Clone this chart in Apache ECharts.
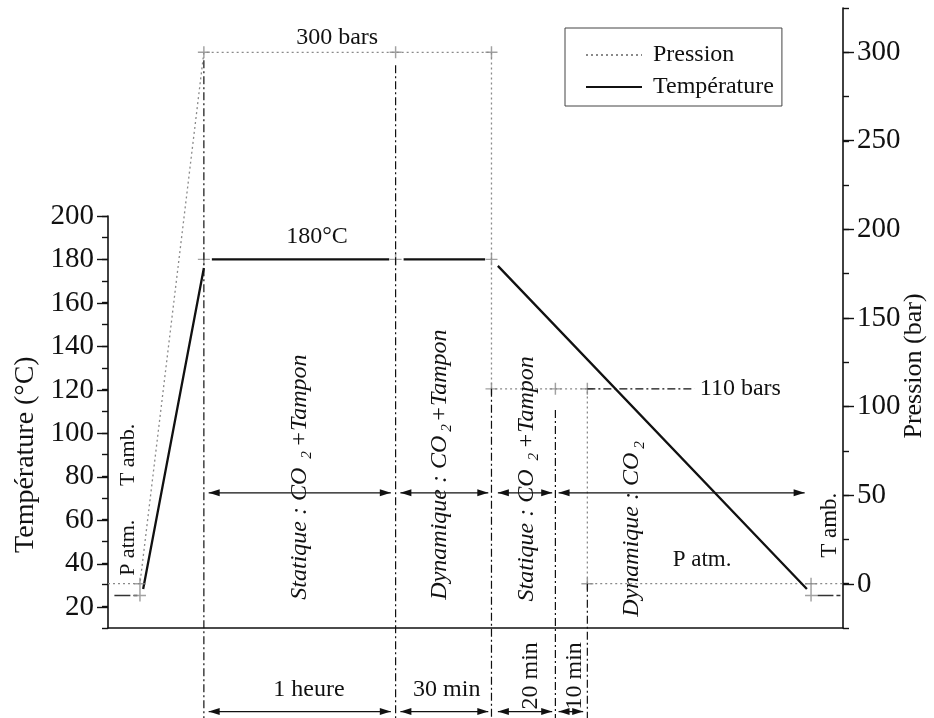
<!DOCTYPE html>
<html><head><meta charset="utf-8">
<script src="https://cdn.jsdelivr.net/npm/echarts@6/dist/echarts.min.js"></script>
<style>html,body{margin:0;padding:0;background:#fff}#c{width:934px;height:718px}</style>
</head><body><div id="c"></div>
<script>
// ---------- data (time in minutes, pressure in bar, temperature in °C) ----------
const timeMin = -30, timeMax = 200;
const pressureData = [[-30,0],[-20,0],[0,300],[60,300],[90,300],[90,110],[110,110],[120,110],[120,0],[190,0],[200,0]];
const pressureMarkers = [[-20,0],[0,300],[60,300],[90,300],[90,110],[110,110],[120,110],[120,0],[190,0]];
const temperatureData = [[-19,28],[0,176],[1,'-'],[2.5,180],[58,180],[60,'-'],[62.5,180],[88,180],[90,'-'],[92,177],[188.7,28]];
const temperatureMarkers = [[-20,25],[0,180],[60,180],[90,180],[190,25]];
const ambientLeft = [[-28,25],[-20.5,25]];
const ambientRight = [[192,25],[200,25]];
const separatorTimes = [0, 60, 90, 110, 120];
const separatorTopPressure = [295.5, 292.7, 110, 98, 0];
const phaseArrows = [[1.5,58.5],[61.5,89],[92,109],[111,188]];
const durationArrows = [[1.5,58.5],[61.5,89],[92,109],[111,118.7]];
const durationLabels = ['1 heure','30 min','20 min','10 min'];
const phaseLabels = [['Statique : CO','+Tampon'],['Dynamique : CO','+Tampon'],['Statique : CO','+Tampon'],['Dynamique : CO','']];

const FONT = 'Liberation Serif, Times New Roman, serif';
const INK = '#111';
const GREY = '#8a8a8a';
const chart = echarts.init(document.getElementById('c'), null, {renderer:'canvas'});

const plusPath = 'path://M4.4,0h1.2v4.4h4.4v1.2h-4.4v4.4h-1.2v-4.4h-4.4v-1.2h4.4z';
const L = 108, R = 934-843, B = 718-628;
function hiddenX(g){return {type:'value',gridIndex:g,min:timeMin,max:timeMax,show:false};}
function grid(top,bottom){return {left:L,right:R,top:top,bottom:bottom,containLabel:false,outerBoundsMode:'none'};}

chart.setOption({
  animation:false,
  backgroundColor:'#fff',
  grid:[
    grid(8,B),            // pressure full
    grid(52,718-584),     // pressure labels
    grid(216,B),          // temperature full
    grid(216,718-607.3)   // temperature labels
  ],
  xAxis:[
    {type:'value',gridIndex:0,min:timeMin,max:timeMax,axisLine:{onZero:false,lineStyle:{color:INK,width:1.6}},axisTick:{show:false},axisLabel:{show:false},splitLine:{show:false}},
    hiddenX(1),hiddenX(2),hiddenX(3)
  ],
  yAxis:[
    {type:'value',gridIndex:0,position:'right',min:-25,max:325,interval:25,
     axisLine:{show:true,onZero:false,lineStyle:{color:INK,width:1.6}},axisTick:{show:true,length:6,lineStyle:{color:INK,width:1.4}},
     axisLabel:{show:false},splitLine:{show:false}},
    {type:'value',gridIndex:1,position:'right',min:0,max:300,interval:50,
     axisLine:{show:false,onZero:false},axisTick:{show:true,length:11,lineStyle:{color:INK,width:1.4}},
     axisLabel:{show:true,margin:14,fontFamily:FONT,fontSize:29,color:INK},splitLine:{show:false},
     name:'Pression (bar)',nameLocation:'middle',nameGap:58,nameMoveOverlap:false,
     nameTextStyle:{fontFamily:FONT,fontSize:26,color:INK,padding:[0,96,0,0]}},
    {type:'value',gridIndex:2,position:'left',min:10,max:200,interval:10,
     axisLine:{show:true,onZero:false,lineStyle:{color:INK,width:1.6}},axisTick:{show:true,length:6,lineStyle:{color:INK,width:1.4}},
     axisLabel:{show:false},splitLine:{show:false}},
    {type:'value',gridIndex:3,position:'left',min:20,max:200,interval:20,
     axisLine:{show:false,onZero:false},axisTick:{show:true,length:11,lineStyle:{color:INK,width:1.4}},
     axisLabel:{show:true,margin:14,fontFamily:FONT,fontSize:29,color:INK},splitLine:{show:false},
     name:'Température (°C)',nameLocation:'middle',nameGap:66,
     nameTextStyle:{fontFamily:FONT,fontSize:28,color:INK,padding:[0,86,0,0]}}
  ],
  legend:{orient:'vertical',left:565,top:28,padding:[14,8,6,20],borderColor:'#444',borderWidth:1,
    itemWidth:56,itemHeight:14,itemGap:6,selectedMode:false,itemStyle:{opacity:0},
    textStyle:{fontFamily:FONT,fontSize:24,color:INK,lineHeight:26,padding:[0,0,0,6]},
    data:['Pression','Température']},
  series:[
    {name:'Pression',type:'line',xAxisIndex:0,yAxisIndex:0,data:pressureData,symbol:'none',
     itemStyle:{color:GREY},lineStyle:{color:GREY,width:1.3,type:[2,3]},z:3},
    {name:'Température',type:'line',xAxisIndex:2,yAxisIndex:2,data:temperatureData,symbol:'none',connectNulls:false,
     itemStyle:{color:INK},lineStyle:{color:INK,width:2.3},z:4},
    {name:'pmark',type:'scatter',xAxisIndex:0,yAxisIndex:0,data:pressureMarkers,symbol:plusPath,symbolSize:12,
     itemStyle:{color:GREY},z:5},
    {name:'tmark',type:'scatter',xAxisIndex:2,yAxisIndex:2,data:temperatureMarkers,symbol:plusPath,symbolSize:12,
     itemStyle:{color:GREY},z:5},
    {name:'ambL',type:'line',xAxisIndex:2,yAxisIndex:2,data:ambientLeft,symbol:'none',lineStyle:{color:'#333',width:1.6,type:[16,3,4,3]}},
    {name:'ambR',type:'line',xAxisIndex:2,yAxisIndex:2,data:ambientRight,symbol:'none',lineStyle:{color:'#333',width:1.6,type:[16,3,4,3]}}
  ]
});

// ---------- annotations placed through the axes' scales ----------
const P = (t,p)=>chart.convertToPixel({gridIndex:0},[t,p]);
const T = (t,v)=>chart.convertToPixel({gridIndex:2},[t,v]);
const g = [];
const DASHDOT = [8,3,2,3];
function line(a,b,style){g.push({type:'line',shape:{x1:a[0],y1:a[1],x2:b[0],y2:b[1]},style:Object.assign({stroke:INK,lineWidth:1.2},style),silent:true,z:10});}
function arrow(t1,t2,p){
  const a=P(t1,p), b=P(t2,p), y=a[1];
  line(a,b,{lineWidth:1.3});
  g.push({type:'polygon',shape:{points:[[a[0],y],[a[0]+11,y-3.5],[a[0]+11,y+3.5]]},style:{fill:INK},silent:true,z:10});
  g.push({type:'polygon',shape:{points:[[b[0],y],[b[0]-11,y-3.5],[b[0]-11,y+3.5]]},style:{fill:INK},silent:true,z:10});
}
function text(pt,str,opt){
  opt=opt||{};
  g.push({type:'text',x:pt[0],y:pt[1],rotation:opt.rot||0,silent:true,z:11,
    style:{text:str,fill:INK,font:(opt.italic?'italic ':'')+(opt.size||24)+'px '+FONT,
      align:opt.align||'center',verticalAlign:'middle',textAlign:opt.align||'center',textVerticalAlign:'middle',rich:opt.rich}});
}
// separators
separatorTimes.forEach((t,i)=>line(P(t,separatorTopPressure[i]),P(t,-76),{lineDash:DASHDOT}));
// phase arrows and duration arrows
phaseArrows.forEach(a=>arrow(a[0],a[1],51.3));
durationArrows.forEach(a=>arrow(a[0],a[1],-72.2));
// 110 bars leader
line(P(120,110),P(153.5,110),{lineDash:[8,3,2,3],lineWidth:1.1});
text(P(155.2,110),'110 bars',{align:'left',size:24});
text(P(41.7,308),'300 bars',{size:24});
text(T(35.4,190.4),'180°C',{size:24});
text(P(155.9,13.5),'P atm.',{size:23});
text(P(196,33),'T amb.',{size:23,rot:Math.PI/2});
text(P(-23.7,20.3),'P atm.',{size:22,rot:Math.PI/2});
text(P(-23.7,72.7),'T amb.',{size:22,rot:Math.PI/2});
// durations
text(P(32.9,-59.8),durationLabels[0],{size:24});
text(P(76,-59.8),durationLabels[1],{size:24});
text(P(102.4,-71),durationLabels[2],{size:24,rot:Math.PI/2,align:'left'});
text(P(116.1,-71),durationLabels[3],{size:24,rot:Math.PI/2,align:'left'});
// phase labels (rotated, italic, with subscript 2)
function richFor(pad){return {n:{font:'italic 24px '+FONT,fill:INK,lineHeight:30,verticalAlign:'middle'},
            s:{font:'italic 15px '+FONT,fill:INK,lineHeight:14,verticalAlign:'bottom',padding:pad}};}
const phaseAnchors=[[30.1,-9],[73.9,-9],[101.1,-10],[134,-18.6]];
phaseLabels.forEach((lab,i)=>{
  const pad = lab[0].indexOf('Statique')===0 ? [0,4,0,9] : [0,2,0,4];
  text(P(phaseAnchors[i][0],phaseAnchors[i][1]),'{n|'+lab[0]+'}{s|2}'+(lab[1]?'{n|'+lab[1]+'}':''),
    {rot:Math.PI/2,align:'left',rich:richFor(pad)});
});
chart.setOption({graphic:g});
</script></body></html>
